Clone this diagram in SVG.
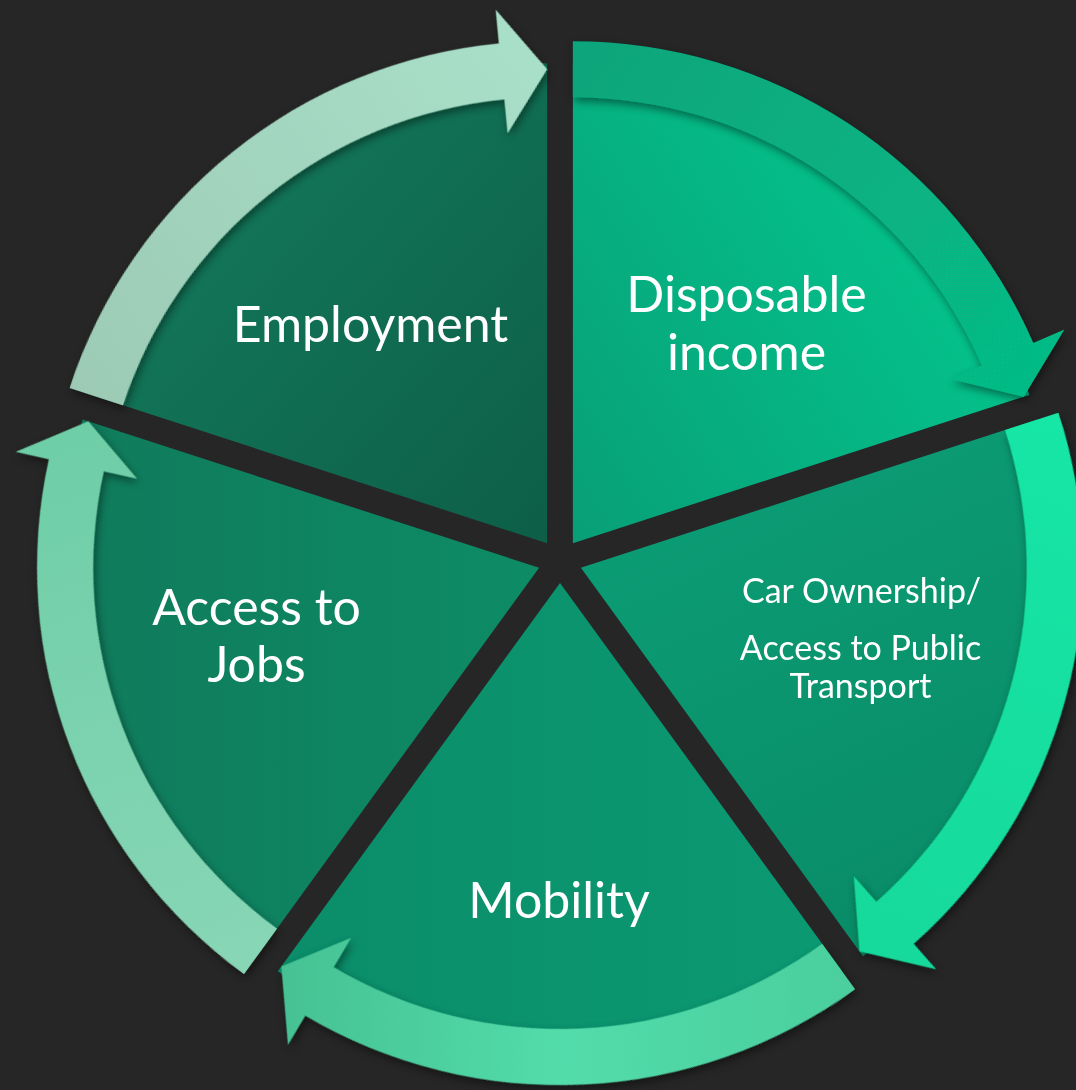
<svg xmlns="http://www.w3.org/2000/svg" xmlns:xlink="http://www.w3.org/1999/xlink" width="1076" height="1090" viewBox="0 0 1076 1090">
  <defs>
    <style>
      .label { font-family: Lato, "Open Sans", "Liberation Sans", sans-serif; fill: #ffffff; text-anchor: middle; }
      .big { font-size: 50px; }
      .small { font-size: 34px; }
    </style>
    <!-- one pie slice spanning -90deg..-18deg, apex at the origin -->
    <path id="wedge" d="M0,0 L0,-480 A480,480 0 0 1 456.5,-148.3 Z"/>
    <!-- curved arrow over the same span: tail at -90deg, head tip at -18deg -->
    <path id="arc" d="M0,-502 A502,502 0 0 1 460.4,-200.2 L491.5,-213.7 L450.8,-146.5 L377.8,-164.3 L409,-177.8 A446,446 0 0 0 0,-446 Z"/>
    <filter id="shadow" x="-20%" y="-20%" width="140%" height="140%">
      <feDropShadow dx="2" dy="4" stdDeviation="4" flood-color="#000000" flood-opacity="0.45"/>
    </filter>

    <!-- slice fills (gradient space kept upright with a counter-rotation) -->
    <linearGradient id="gW0" gradientUnits="userSpaceOnUse" x1="0" y1="0" x2="480" y2="-300">
      <stop offset="0" stop-color="#089f77"/><stop offset="1" stop-color="#03c98f"/>
    </linearGradient>
    <linearGradient id="gW1" gradientUnits="userSpaceOnUse" x1="0" y1="-150" x2="250" y2="400" gradientTransform="rotate(-72)">
      <stop offset="0" stop-color="#0ca078"/><stop offset="1" stop-color="#098c67"/>
    </linearGradient>
    <linearGradient id="gW2" gradientUnits="userSpaceOnUse" x1="-280" y1="0" x2="280" y2="0" gradientTransform="rotate(-144)">
      <stop offset="0" stop-color="#0b8d69"/><stop offset="1" stop-color="#0b9a73"/>
    </linearGradient>
    <linearGradient id="gW3" gradientUnits="userSpaceOnUse" x1="-480" y1="0" x2="0" y2="0" gradientTransform="rotate(-216)">
      <stop offset="0" stop-color="#107a5b"/><stop offset="1" stop-color="#0d8c65"/>
    </linearGradient>
    <linearGradient id="gW4" gradientUnits="userSpaceOnUse" x1="-400" y1="-350" x2="0" y2="0" gradientTransform="rotate(-288)">
      <stop offset="0" stop-color="#13785a"/><stop offset="1" stop-color="#0d5f47"/>
    </linearGradient>

    <!-- arrow fills -->
    <linearGradient id="gA0" gradientUnits="userSpaceOnUse" x1="0" y1="-500" x2="470" y2="-170">
      <stop offset="0" stop-color="#09a57b"/><stop offset="1" stop-color="#06bb86"/>
    </linearGradient>
    <linearGradient id="gA1" gradientUnits="userSpaceOnUse" x1="480" y1="-150" x2="280" y2="400" gradientTransform="rotate(-72)">
      <stop offset="0" stop-color="#16e6a6"/><stop offset="1" stop-color="#13d99a"/>
    </linearGradient>
    <linearGradient id="gA2" gradientUnits="userSpaceOnUse" x1="280" y1="400" x2="-280" y2="400" gradientTransform="rotate(-144)">
      <stop offset="0" stop-color="#4bcf9f"/><stop offset="0.5" stop-color="#53dcab"/><stop offset="1" stop-color="#46c193"/>
    </linearGradient>
    <linearGradient id="gA3" gradientUnits="userSpaceOnUse" x1="-280" y1="400" x2="-470" y2="-150" gradientTransform="rotate(-216)">
      <stop offset="0" stop-color="#88d6b6"/><stop offset="1" stop-color="#6dcea6"/>
    </linearGradient>
    <linearGradient id="gA4" gradientUnits="userSpaceOnUse" x1="-480" y1="-150" x2="0" y2="-500" gradientTransform="rotate(-288)">
      <stop offset="0" stop-color="#9ccab5"/><stop offset="1" stop-color="#a9e0c9"/>
    </linearGradient>
  </defs>

  <rect width="1076" height="1090" fill="#262626"/>

  <!-- slices, each pushed out from (560,561) along its bisector -->
  <g id="disposable-income">
    <use xlink:href="#wedge" fill="url(#gW0)" transform="translate(572.9,543.2)"/>
  </g>
  <g id="car-ownership">
    <use xlink:href="#wedge" fill="url(#gW1)" transform="translate(580.9,567.8) rotate(72)"/>
  </g>
  <g id="mobility">
    <use xlink:href="#wedge" fill="url(#gW2)" transform="translate(560,583) rotate(144)"/>
  </g>
  <g id="access-to-jobs">
    <use xlink:href="#wedge" fill="url(#gW3)" transform="translate(539.1,567.8) rotate(216)"/>
  </g>
  <g id="employment">
    <use xlink:href="#wedge" fill="url(#gW4)" transform="translate(547.1,543.2) rotate(288)"/>
  </g>

  <!-- cycle arrows -->
  <g id="connectors" filter="url(#shadow)">
    <use xlink:href="#arc" fill="url(#gA0)" transform="translate(572.9,543.2)"/>
    <use xlink:href="#arc" fill="url(#gA1)" transform="translate(580.9,567.8) rotate(72)"/>
    <use xlink:href="#arc" fill="url(#gA2)" transform="translate(560,583) rotate(144)"/>
    <use xlink:href="#arc" fill="url(#gA3)" transform="translate(539.1,567.8) rotate(216)"/>
    <use xlink:href="#arc" fill="url(#gA4)" transform="translate(547.1,543.2) rotate(288)"/>
  </g>

  <!-- labels -->
  <g id="labels">
    <text class="label big" x="746.5" y="312">Disposable</text>
    <text class="label big" x="746.5" y="370">income</text>
    <text class="label small" x="861.5" y="603">Car Ownership/</text>
    <text class="label small" x="860.5" y="660">Access to Public</text>
    <text class="label small" x="860.5" y="698">Transport</text>
    <text class="label big" x="559" y="918">Mobility</text>
    <text class="label big" x="256.5" y="625">Access to</text>
    <text class="label big" x="256.5" y="682">Jobs</text>
    <text class="label big" x="370.5" y="342">Employment</text>
  </g>
</svg>
